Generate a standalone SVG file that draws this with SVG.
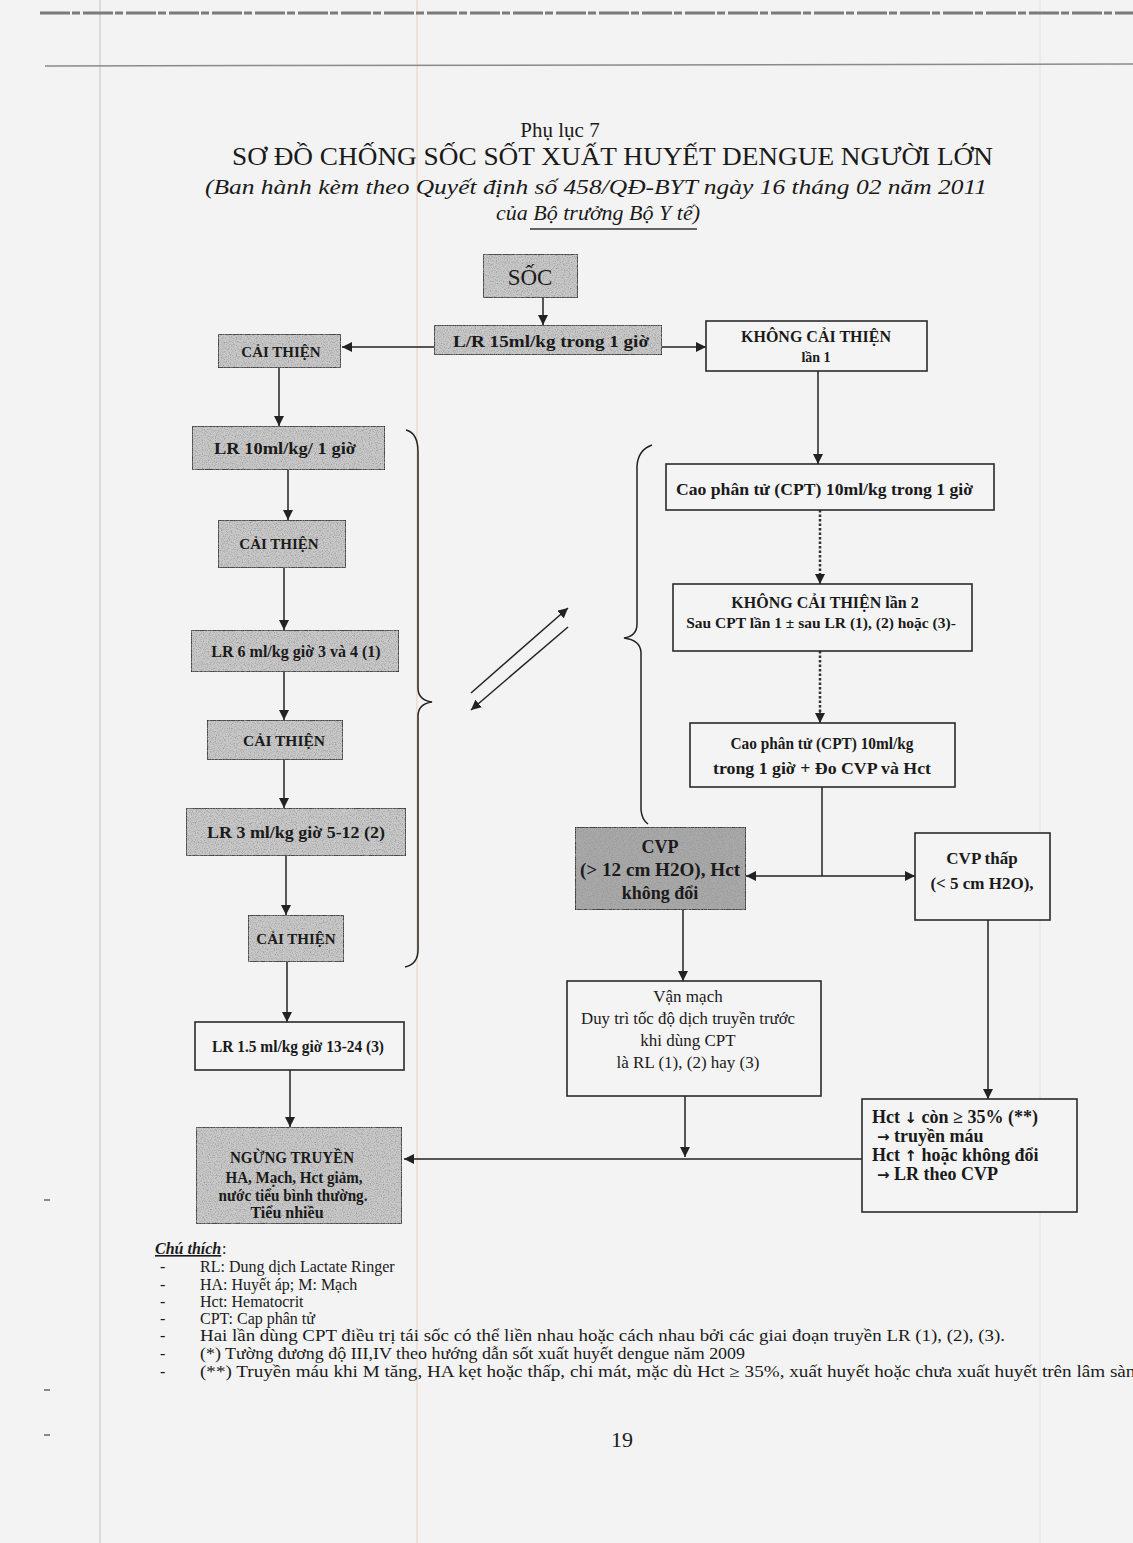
<svg xmlns="http://www.w3.org/2000/svg" width="1133" height="1543" viewBox="0 0 1133 1543">
<defs>
<style>
.t{font-family:"Liberation Serif","Times New Roman",serif;fill:#1a1a1a}
.b{font-weight:bold}
.ar{font-family:"DejaVu Sans",sans-serif;font-weight:bold}
.box{stroke:#2a2a2a;stroke-width:1.6}
.g{fill:#c9c9c9}
.dk{fill:#a9a9a9}
.w{fill:#f4f4f4}
.ln{fill:none;stroke:#222;stroke-width:1.5}
.dot{fill:none;stroke:#333;stroke-width:2.5;stroke-dasharray:2.5 2}
.lg{font-size:16px}
</style>
<marker id="ah" viewBox="0 0 10 10" refX="10" refY="5" markerWidth="10" markerHeight="10" markerUnits="userSpaceOnUse" orient="auto">
<path d="M0,0 L10,5 L0,10 z" fill="#222"/>
</marker>
<filter id="grain" x="0" y="0" width="100%" height="100%">
<feTurbulence type="fractalNoise" baseFrequency="0.85" numOctaves="2" seed="7" result="t"/>
<feColorMatrix in="t" type="matrix" values="0 0 0 0 0.3 0 0 0 0 0.3 0 0 0 0 0.3 2.2 0 0 0 -0.95" result="d"/>
<feComposite in="d" in2="SourceGraphic" operator="in" result="dc"/>
<feMerge><feMergeNode in="SourceGraphic"/><feMergeNode in="dc"/></feMerge>
</filter>
</defs>

<rect width="1133" height="1543" fill="#f3f3f3"/>
<g id="page-marks">
<line x1="100" y1="0" x2="100" y2="1543" stroke="#c8bfc0" stroke-width="1"/>
<line x1="417" y1="0" x2="417" y2="1543" stroke="#ecd6c2" stroke-width="1.2"/>
<line x1="1040" y1="0" x2="1040" y2="1543" stroke="#e2e2e2" stroke-width="1"/>
<line x1="40" y1="13" x2="1133" y2="13" stroke="#7a7a7a" stroke-width="3" stroke-dasharray="30 2 8 3"/>
<line x1="45" y1="66" x2="1133" y2="64" stroke="#8a8a8a" stroke-width="1.5"/>
<line x1="44" y1="1390" x2="50" y2="1390" stroke="#666" stroke-width="1.5"/>
<line x1="44" y1="1435" x2="50" y2="1435" stroke="#666" stroke-width="1.5"/>
<line x1="44" y1="1200" x2="50" y2="1200" stroke="#666" stroke-width="1.5"/>
</g>

<g id="header">
<text class="t" x="560" y="137" font-size="21" text-anchor="middle">Phụ lục 7</text>
<text class="t" x="232" y="165" font-size="26" textLength="761" lengthAdjust="spacingAndGlyphs">SƠ ĐỒ CHỐNG SỐC SỐT XUẤT HUYẾT DENGUE NGƯỜI LỚN</text>
<text class="t" x="205" y="194" font-size="22" font-style="italic" textLength="782" lengthAdjust="spacingAndGlyphs">(Ban hành kèm theo Quyết định số 458/QĐ-BYT ngày 16 tháng 02 năm 2011</text>
<text class="t" x="598" y="220" font-size="22" font-style="italic" text-anchor="middle">của Bộ trưởng Bộ Y tế)</text>
<line x1="530" y1="229" x2="697" y2="229" stroke="#333" stroke-width="1.3"/>
</g>

<g id="connectors">
<path class="ln" d="M543,298 V325" marker-end="url(#ah)"/>
<path class="ln" d="M434,347 H342" marker-end="url(#ah)"/>
<path class="ln" d="M662,347 H706" marker-end="url(#ah)"/>
<path class="ln" d="M818,371 V464" marker-end="url(#ah)"/>
<path class="ln" d="M279,368 V426" marker-end="url(#ah)"/>
<path class="ln" d="M288,470 V520" marker-end="url(#ah)"/>
<path class="dot" d="M820,510 V576"/>
<path class="ln" d="M820,574 V584" marker-end="url(#ah)"/>
<path class="ln" d="M284,568 V630" marker-end="url(#ah)"/>
<path class="dot" d="M820,651 V714"/>
<path class="ln" d="M820,712 V723" marker-end="url(#ah)"/>
<path class="ln" d="M284,672 V720" marker-end="url(#ah)"/>
<path class="ln" d="M284,760 V808" marker-end="url(#ah)"/>
<path class="ln" d="M822,787 V876"/>
<path class="ln" d="M822,876 H746" marker-end="url(#ah)"/>
<path class="ln" d="M822,876 H915" marker-end="url(#ah)"/>
<path class="ln" d="M286,856 V915" marker-end="url(#ah)"/>
<path class="ln" d="M683,910 V981" marker-end="url(#ah)"/>
<path class="ln" d="M287,962 V1022" marker-end="url(#ah)"/>
<path class="ln" d="M988,920 V1099" marker-end="url(#ah)"/>
<path class="ln" d="M290,1070 V1127" marker-end="url(#ah)"/>
<path class="ln" d="M685,1096 V1157" marker-end="url(#ah)"/>
<path class="ln" d="M862,1159 H404" marker-end="url(#ah)"/>
<path class="ln" d="M406,430 Q418,433 418,452 V688 Q418,700 432,702 Q418,704 418,716 V950 Q418,964 405,967"/>
<path class="ln" d="M652,445 Q638,450 637,466 V624 Q637,636 624,638 Q640,640 641,652 V810 Q642,820 648,824"/>
<path class="ln" d="M471,693 L568,608" marker-end="url(#ah)"/>
<path class="ln" d="M568,627 L471,710" marker-end="url(#ah)"/>
</g>

<g id="n-soc"><rect class="box g" x="483" y="254" width="95" height="44" filter="url(#grain)"/><text class="t" x="530" y="285" font-size="23" text-anchor="middle">SỐC</text></g>
<g id="n-lr15"><rect class="box g" x="434" y="325" width="228" height="30" filter="url(#grain)"/><text class="t b" x="551" y="347" font-size="17" text-anchor="middle" textLength="196" lengthAdjust="spacingAndGlyphs">L/R 15ml/kg trong 1 giờ</text></g>
<g id="n-ct1"><rect class="box g" x="218" y="334" width="123" height="34" filter="url(#grain)"/><text class="t b" x="281" y="357" font-size="15" text-anchor="middle">CẢI THIỆN</text></g>
<g id="n-kct1"><rect class="box w" x="706" y="321" width="221" height="50"/><text class="t b" x="816" y="342" font-size="16" text-anchor="middle">KHÔNG CẢI THIỆN</text><text class="t b" x="816" y="362" font-size="14" text-anchor="middle">lần 1</text></g>
<g id="n-lr10"><rect class="box g" x="192" y="426" width="193" height="44" filter="url(#grain)"/><text class="t b" x="285" y="454" font-size="17" text-anchor="middle" textLength="142" lengthAdjust="spacingAndGlyphs">LR 10ml/kg/ 1 giờ</text></g>
<g id="n-cpt1"><rect class="box w" x="666" y="464" width="328" height="46"/><text class="t b" x="676" y="495" font-size="17" textLength="297" lengthAdjust="spacingAndGlyphs">Cao phân tử (CPT) 10ml/kg trong 1 giờ</text></g>
<g id="n-ct2"><rect class="box g" x="218" y="520" width="128" height="48" filter="url(#grain)"/><text class="t b" x="279" y="549" font-size="15" text-anchor="middle">CẢI THIỆN</text></g>
<g id="n-kct2"><rect class="box w" x="673" y="584" width="299" height="67"/><text class="t b" x="825" y="608" font-size="16" text-anchor="middle">KHÔNG CẢI THIỆN lần 2</text><text class="t b" x="821" y="628" font-size="15.5" text-anchor="middle">Sau CPT lần 1 ± sau LR (1), (2) hoặc (3)-</text></g>
<g id="n-lr6"><rect class="box g" x="191" y="630" width="208" height="42" filter="url(#grain)"/><text class="t b" x="296" y="657" font-size="16" text-anchor="middle">LR 6 ml/kg giờ 3 và 4 (1)</text></g>
<g id="n-ct3"><rect class="box g" x="207" y="720" width="136" height="40" filter="url(#grain)"/><text class="t b" x="284" y="746" font-size="15.5" text-anchor="middle">CẢI THIỆN</text></g>
<g id="n-cpt2"><rect class="box w" x="690" y="723" width="265" height="64"/><text class="t b" x="822" y="749" font-size="16" text-anchor="middle" textLength="183" lengthAdjust="spacingAndGlyphs">Cao phân tử (CPT) 10ml/kg</text><text class="t b" x="822" y="774" font-size="17" text-anchor="middle" textLength="218" lengthAdjust="spacingAndGlyphs">trong 1 giờ +  Đo CVP và Hct</text></g>
<g id="n-lr3"><rect class="box g" x="186" y="808" width="220" height="48" filter="url(#grain)"/><text class="t b" x="296" y="838" font-size="17" text-anchor="middle" textLength="178" lengthAdjust="spacingAndGlyphs">LR 3 ml/kg giờ 5-12 (2)</text></g>
<g id="n-cvp"><rect class="box dk" x="575" y="827" width="171" height="83" filter="url(#grain)"/><text class="t b" x="660" y="853" font-size="18" text-anchor="middle">CVP</text><text class="t b" x="660" y="876" font-size="18" text-anchor="middle" textLength="160" lengthAdjust="spacingAndGlyphs">(&gt; 12 cm H2O), Hct</text><text class="t b" x="660" y="899" font-size="18" text-anchor="middle">không đổi</text></g>
<g id="n-cvpthap"><rect class="box w" x="915" y="833" width="135" height="87"/><text class="t b" x="982" y="864" font-size="17" text-anchor="middle">CVP thấp</text><text class="t b" x="982" y="889" font-size="17" text-anchor="middle">(&lt; 5 cm H2O),</text></g>
<g id="n-ct4"><rect class="box g" x="248" y="915" width="96" height="47" filter="url(#grain)"/><text class="t b" x="296" y="944" font-size="15" text-anchor="middle">CẢI THIỆN</text></g>
<g id="n-lr15b"><rect class="box w" x="195" y="1022" width="209" height="48"/><text class="t b" x="298" y="1052" font-size="16" text-anchor="middle" textLength="172" lengthAdjust="spacingAndGlyphs">LR 1.5 ml/kg giờ 13-24  (3)</text></g>
<g id="n-vanmach"><rect class="box w" x="567" y="981" width="254" height="115"/><text class="t" x="688" y="1002" font-size="17" text-anchor="middle">Vận mạch</text><text class="t" x="688" y="1024" font-size="17" text-anchor="middle" textLength="214" lengthAdjust="spacingAndGlyphs">Duy trì tốc độ dịch truyền trước</text><text class="t" x="688" y="1046" font-size="17" text-anchor="middle">khi dùng CPT</text><text class="t" x="688" y="1068" font-size="17" text-anchor="middle">là RL (1), (2) hay (3)</text></g>
<g id="n-ngung"><rect class="box g" x="196" y="1127" width="206" height="97" filter="url(#grain)"/><text class="t b" x="292" y="1163" font-size="16" text-anchor="middle" textLength="124" lengthAdjust="spacingAndGlyphs">NGỪNG TRUYỀN</text><text class="t b" x="294" y="1183" font-size="16" text-anchor="middle" textLength="137" lengthAdjust="spacingAndGlyphs">HA, Mạch, Hct giảm,</text><text class="t b" x="293" y="1201" font-size="16" text-anchor="middle" textLength="149" lengthAdjust="spacingAndGlyphs">nước tiểu bình thường.</text><text class="t b" x="287" y="1218" font-size="16" text-anchor="middle">Tiểu nhiều</text></g>
<g id="n-hct"><rect class="box w" x="862" y="1099" width="215" height="113"/><text class="t b" x="872" y="1123" font-size="18">Hct <tspan class="ar" font-size="15">↓</tspan> còn  ≥ 35% (**)</text><text class="t b" x="877" y="1142" font-size="18"><tspan class="ar" font-size="15">→</tspan> truyền máu</text><text class="t b" x="872" y="1161" font-size="18">Hct <tspan class="ar" font-size="15">↑</tspan> hoặc không đổi</text><text class="t b" x="877" y="1180" font-size="18"><tspan class="ar" font-size="15">→</tspan> LR theo CVP</text></g>

<g id="legend">
<text class="t lg" x="155" y="1254" font-style="italic" font-weight="bold" text-decoration="underline">Chú thích</text><text class="t lg" x="222" y="1254">:</text>
<text class="t lg" x="160" y="1272">-</text><text class="t lg" x="200" y="1272">RL: Dung dịch Lactate Ringer</text>
<text class="t lg" x="160" y="1290">-</text><text class="t lg" x="200" y="1290">HA: Huyết áp; M: Mạch</text>
<text class="t lg" x="160" y="1307">-</text><text class="t lg" x="200" y="1307">Hct: Hematocrit</text>
<text class="t lg" x="160" y="1324">-</text><text class="t lg" x="200" y="1324">CPT: Cap phân tử</text>
<text class="t lg" x="160" y="1341">-</text><text class="t lg" x="200" y="1341" textLength="805" lengthAdjust="spacingAndGlyphs">Hai lần dùng CPT điều trị tái sốc có thể liền nhau hoặc cách nhau bởi các giai đoạn truyền LR (1), (2), (3).</text>
<text class="t lg" x="160" y="1359">-</text><text class="t lg" x="200" y="1359" textLength="545" lengthAdjust="spacingAndGlyphs">(*) Tường đương độ III,IV theo hướng dẫn sốt xuất huyết dengue năm 2009</text>
<text class="t lg" x="160" y="1377">-</text><text class="t lg" x="200" y="1377" textLength="945" lengthAdjust="spacingAndGlyphs">(**) Truyền máu khi M tăng, HA kẹt hoặc thấp, chi mát,  mặc dù Hct ≥ 35%, xuất huyết hoặc chưa xuất huyết trên lâm sàng</text>
<text class="t" x="622" y="1447" font-size="22" text-anchor="middle">19</text>
</g>
</svg>
